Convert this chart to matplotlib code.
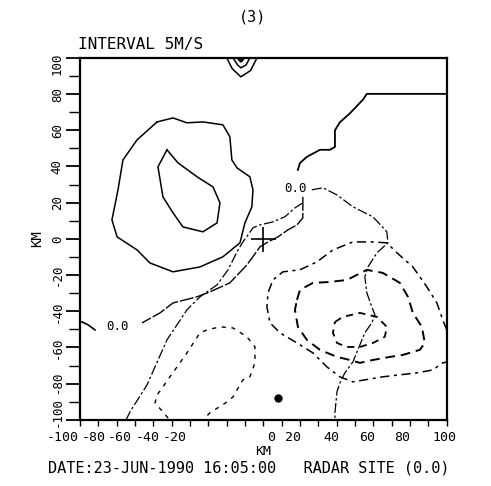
import matplotlib
matplotlib.use('Agg')
import matplotlib.pyplot as plt

plt.rcParams['font.family'] = ['DejaVu Sans Mono']

# contour traces (km east, km north of radar)
cap_outer_x = [-20.0, -17.0, -12.3, -7.0, -3.5]
cap_outer_y = [100.0, 94.0, 89.5, 93.0, 100.0]
cap_mid_x = [-16.6, -14.0, -12.3, -9.5, -7.4]
cap_mid_y = [100.0, 96.0, 94.5, 96.0, 100.0]
cap_in_x = [-14.0, -12.3, -10.5]
cap_in_y = [100.0, 98.0, 100.0]

pos_outer_x = [-58.0, -49.3, -41.7, -33.0, -22.1, -18.3, -17.2, -14.4, -7.4, -5.7, -6.3,
               -10.1, -12.8, -22.1, -34.6, -49.3, -61.9, -68.9, -79.8, -82.6, -79.3,
               -76.6, -68.9, -58.0]
pos_outer_y = [64.6, 66.8, 64.1, 64.6, 63.0, 56.4, 43.6, 39.2, 34.3, 27.1, 17.7,
               8.8, -2.2, -9.9, -15.5, -18.2, -13.3, -6.1, 1.1, 10.5, 27.1,
               43.6, 54.7, 64.6]
pos_inner_x = [-52.6, -46.6, -36.2, -27.5, -23.7, -25.3, -33.0, -43.9, -49.3, -54.8, -57.5, -52.6]
pos_inner_y = [49.2, 42.0, 34.3, 28.7, 19.9, 8.8, 3.9, 6.6, 14.4, 23.2, 39.8, 49.2]

zero_ne_x = [100.0, 56.4, 54.2, 47.2, 41.7, 39.0, 39.0, 36.3, 30.8, 23.7, 19.9, 18.8]
zero_ne_y = [80.1, 80.1, 76.8, 69.4, 64.4, 60.0, 50.8, 49.2, 49.2, 45.3, 41.9, 38.1]

zero_sw_x = [21.5, 21.5, 21.5, 18.3, 13.4, 7.9, 2.5, -1.9, -9.0, -18.3, -29.2, -36.2,
             -49.3, -56.4, -66.2]
zero_sw_y = [23.2, 18.8, 11.6, 7.7, 5.0, 1.1, -1.7, -4.4, -14.4, -24.3, -29.3, -32.0,
             -35.4, -40.9, -46.4]
zero_w_x = [-91.8, -95.6, -98.9, -100.0]
zero_w_y = [-50.3, -47.5, -45.9, -45.9]

steep_x = [21.5, 17.2, 11.7, 5.2, -1.9, -5.7, -8.4, -11.2, -14.4, -19.3, -25.3, -34.6,
           -41.7, -52.6, -63.5, -72.8, -74.9]
steep_y = [19.9, 17.1, 12.2, 9.4, 7.7, 6.1, 2.2, -1.7, -7.2, -17.1, -25.4, -32.0,
           -39.2, -55.8, -80.7, -95.6, -100.0]

right_x = [26.4, 32.4, 40.1, 48.8, 59.7, 67.3, 67.9, 61.9, 57.0, 55.3, 56.4, 59.1, 60.8,
           59.1, 55.3, 51.5, 48.8, 44.4, 41.7, 40.1, 39.0, 39.0]
right_y = [27.1, 28.2, 24.3, 17.7, 12.2, 3.9, -2.2, -7.7, -15.5, -21.0, -29.8, -37.6, -42.0,
           -46.4, -51.9, -61.3, -68.0, -74.0, -79.6, -84.5, -96.1, -100.0]

neg_outer_x = [100.0, 97.8, 94.6, 89.1, 81.5, 72.8, 67.3, 59.7, 48.8, 37.9, 29.2, 19.9,
               10.6, 5.2, 2.5, 1.9, 3.6, 9.0, 18.3, 27.0, 34.6, 41.7, 48.8, 65.1, 83.7,
               92.4, 97.8, 100.0]
neg_outer_y = [-50.3, -44.8, -35.4, -26.5, -15.5, -7.7, -2.2, -1.7, -1.7, -6.1, -12.7, -17.1,
               -18.2, -22.7, -29.8, -37.6, -46.4, -51.9, -57.5, -63.0, -70.7, -76.2, -79.0,
               -76.2, -74.0, -72.4, -68.5, -68.0]
neg_mid_x = [18.3, 19.9, 27.0, 36.3, 45.5, 51.0, 56.4, 65.1, 74.4, 78.8, 81.5, 86.4, 88.0,
             85.3, 76.0, 69.0, 59.7, 52.6, 47.2, 40.1, 30.8, 23.7, 18.8, 17.2, 18.3]
neg_mid_y = [-33.7, -28.2, -24.3, -23.8, -22.7, -19.9, -17.1, -18.8, -24.3, -32.0, -40.9,
             -48.6, -57.5, -61.3, -64.1, -65.2, -66.9, -68.5, -66.9, -65.2, -61.3, -55.8,
             -48.6, -39.2, -33.7]
neg_in_x = [39.0, 43.3, 52.6, 61.9, 67.3, 66.2, 59.7, 52.6, 45.5, 40.1, 37.9, 39.0]
neg_in_y = [-45.9, -43.1, -40.9, -43.1, -48.6, -54.1, -57.5, -59.7, -59.7, -57.5, -51.9, -45.9]

neg_sw_x = [-52.0, -54.8, -59.1, -58.0, -54.8, -51.0, -47.1, -41.7, -34.6, -30.8, -23.7,
            -16.6, -9.0, -4.6, -4.6, -7.4, -11.2, -16.6, -19.9, -29.2, -31.9]
neg_sw_y = [-99.0, -95.6, -90.6, -86.2, -81.8, -76.2, -70.7, -63.0, -51.9, -50.3, -48.6,
            -49.2, -54.1, -59.7, -68.5, -76.2, -77.9, -87.3, -90.1, -96.1, -98.9]

label_x = [17.7, -79.8]
label_y = [27.6, -48.6]
label_txt = ['0.0', '0.0']

drop_x = [7.9]
drop_y = [-87.9]

xtick_vals = [-100, -80, -60, -40, -20, 0, 20, 40, 60, 80, 100]
# where the plotter actually wrote each x label
xtick_text_pos = [-109.5, -92.5, -78.2, -62.9, -48.2, 4.1, 16.1, 36.8, 56.4, 75.5, 98.9]
ytick_vals = [-100, -80, -60, -40, -20, 0, 20, 40, 60, 80, 100]
ytick_text_pos = [-95.5, -79, -60, -40, -20, 0, 20, 40, 60, 80, 97.0]

fig = plt.figure(figsize=(4.91, 4.86), dpi=100)
ax = fig.add_axes([0.163, 0.136, 0.747, 0.745])

solid = dict(color='black', lw=1.1)
ax.plot(cap_outer_x, cap_outer_y, **solid)
ax.plot(cap_mid_x, cap_mid_y, **solid)
ax.plot(cap_in_x, cap_in_y, color='black', lw=1.8)
ax.plot(pos_outer_x, pos_outer_y, **solid)
ax.plot(pos_inner_x, pos_inner_y, **solid)
ax.plot(zero_ne_x, zero_ne_y, color='black', lw=1.3)
ax.plot(zero_sw_x, zero_sw_y, color='black', lw=1.0, ls=(0, (10, 1.5)))
ax.plot(zero_w_x, zero_w_y, color='black', lw=1.2)
ax.plot(steep_x, steep_y, color='black', lw=0.9, ls=(0, (8, 2, 2, 2)))
ax.plot(right_x, right_y, color='black', lw=0.9, ls=(0, (8, 2, 2, 2)))
ax.plot(neg_outer_x, neg_outer_y, color='black', lw=1.1, ls=(0, (6, 3, 2, 3)))
ax.plot(neg_mid_x, neg_mid_y, color='black', lw=1.4, ls=(0, (5, 3)))
ax.plot(neg_in_x, neg_in_y, color='black', lw=1.3, ls=(0, (4, 3)))
ax.plot(neg_sw_x, neg_sw_y, color='black', lw=1.0, ls=(0, (3, 4)))

for x, y, t in zip(label_x, label_y, label_txt):
    ax.text(x, y, t, fontsize=9, ha='center', va='center')

ax.plot([0], [0], marker='+', ms=18, mew=1.2, color='black')
ax.plot(drop_x, drop_y, marker='o', ms=5, color='black', ls='none')

ax.set_xlim(-100, 100)
ax.set_ylim(-100, 100)
for side in ['left', 'bottom', 'top', 'right']:
    ax.spines[side].set_linewidth(1.6)

ax.set_xticks(xtick_vals)
ax.set_xticks(range(-90, 100, 20), minor=True)
ax.set_xticklabels([])
ax.tick_params(axis='x', which='both', direction='out', length=4, width=1.0)
for pos, v in zip(xtick_text_pos, xtick_vals):
    ax.text(pos, -0.048, str(v), transform=ax.get_xaxis_transform(),
            ha='center', va='center', fontsize=9.5)

ax.set_yticks(ytick_vals)
ax.set_yticks(range(-90, 100, 20), minor=True)
ax.set_yticklabels([])
ax.tick_params(axis='y', which='major', direction='out', length=10, width=1.3)
ax.tick_params(axis='y', which='minor', direction='out', length=8, width=1.0)
for pos, v in zip(ytick_text_pos, ytick_vals):
    ax.text(-0.062, pos, str(v), transform=ax.get_yaxis_transform(),
            ha='center', va='center', rotation=90, fontsize=9)

ax.text(-0.117, 0.5, 'KM', transform=ax.transAxes, rotation=90,
        ha='center', va='center', fontsize=10)
fig.text(0.536, 0.071, 'KM', ha='center', va='center', fontsize=9.5)

fig.text(0.515, 0.965, '(3)', ha='center', va='center', fontsize=11)
fig.text(0.159, 0.909, 'INTERVAL 5M/S', ha='left', va='center', fontsize=11.5)
fig.text(0.098, 0.038, 'DATE:23-JUN-1990 16:05:00   RADAR SITE (0.0)',
         ha='left', va='center', fontsize=11)

fig.savefig('out.png', dpi=100, facecolor='white')
